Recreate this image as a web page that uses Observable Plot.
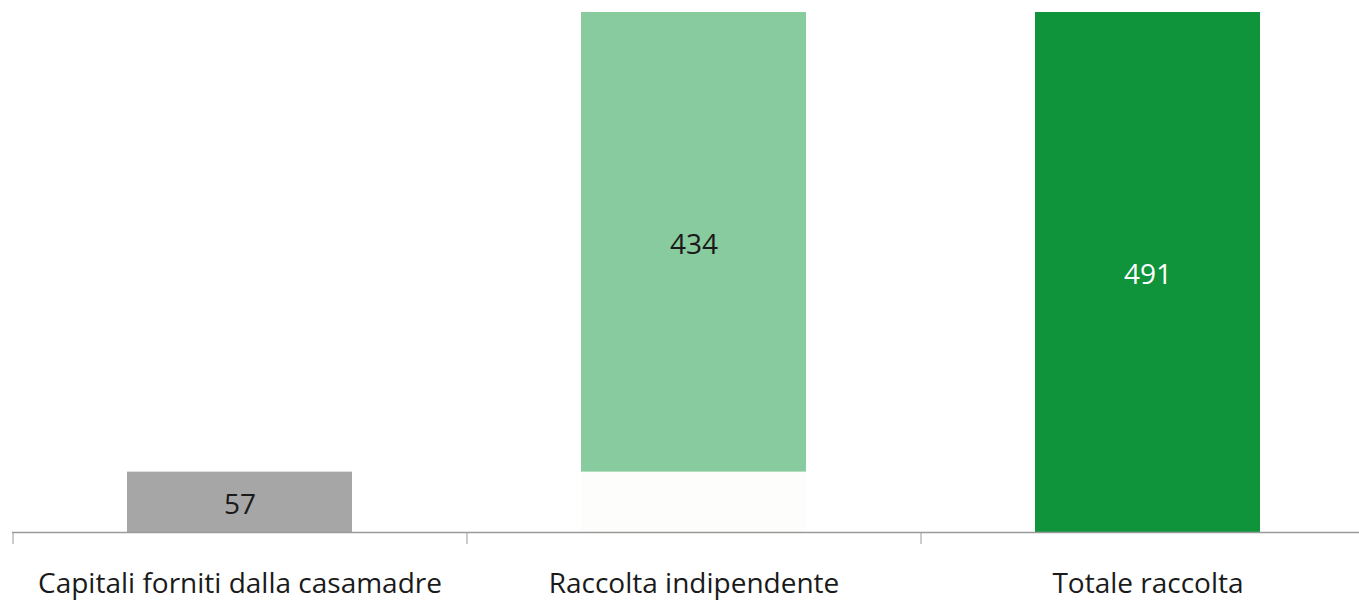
<!DOCTYPE html>
<html>
<head>
<meta charset="utf-8">
<script src="https://cdn.jsdelivr.net/npm/d3@7"></script>
<script src="https://cdn.jsdelivr.net/npm/@observablehq/plot@0.6"></script>
<style>
  html, body { margin: 0; padding: 0; background: #fff; }
  svg { display: block; }
</style>
</head>
<body>
<div id="chart"></div>
<script>
// Data
const categories = ["Capitali forniti dalla casamadre", "Raccolta indipendente", "Totale raccolta"];
const values = [57, 434, 491];
const starts = [0, 57, 0];

// Styles
const barColors = ["#a6a6a6", "#88cb9f", "#0f933b"];
const labelColors = ["#1a1a1a", "#1a1a1a", "#ffffff"];
const FONT = "'Open Sans', sans-serif";

const rows = categories.map((c, i) => ({
  cat: c, v: values[i], y1: starts[i], y2: starts[i] + values[i],
  fill: barColors[i], lab: labelColors[i]
}));
const ghost = rows.filter(d => d.y1 > 0).map(d => ({cat: d.cat, y1: 0, y2: d.y1}));

const chart = Plot.plot({
  width: 1359,
  height: 602,
  marginTop: 12,
  marginBottom: 70,
  marginLeft: 12,
  marginRight: 0,
  style: {fontFamily: FONT, background: "#fff"},
  x: {domain: categories, range: [12, 1374], paddingInner: 0.505, paddingOuter: 0.2525, label: null},
  y: {domain: [0, 491], axis: null},
  marks: [
    Plot.barY(ghost, {x: "cat", y1: "y1", y2: "y2", fill: "#fdfdfb"}),
    Plot.barY(rows, {x: "cat", y1: "y1", y2: "y2", fill: "fill"}),
    Plot.ruleY([0], {stroke: "#9a9a9a", strokeWidth: 1.5}),
    Plot.axisX({tickSize: 12, dx: -227, text: null, stroke: "#9a9a9a", strokeWidth: 1}),
    Plot.axisX({tickSize: 0, tickPadding: 41, fontSize: 28, fill: "#1a1a1a", label: null}),
    Plot.text(rows, {x: "cat", y: d => (d.y1 + d.y2) / 2, text: d => String(d.v), fill: "lab", fontSize: 28, dy: 3})
  ]
});
document.getElementById("chart").appendChild(chart);
</script>
</body>
</html>
